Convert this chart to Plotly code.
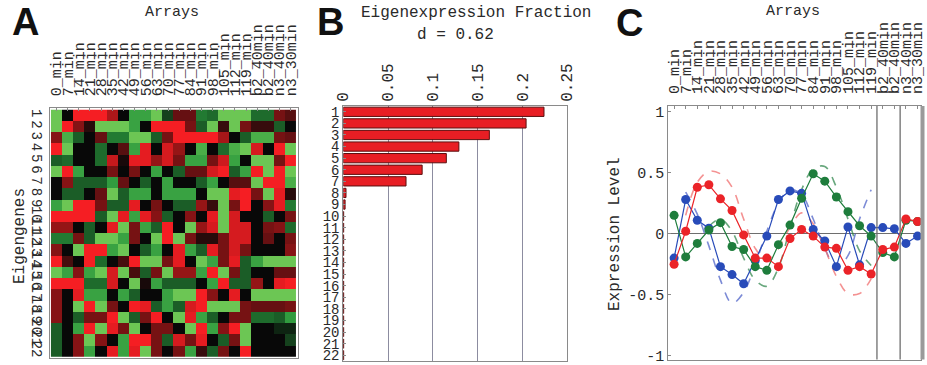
import plotly.graph_objects as go

W, H = 927, 365

# ---------------- data ----------------
array_labels = ["0_min", "7_min", "14_min", "21_min", "28_min", "35_min", "42_min",
                "49_min", "56_min", "63_min", "70_min", "77_min", "84_min", "91_min",
                "98_min", "105_min", "112_min", "119_min", "b2_40min", "b2_40min",
                "n3_40min", "n3_30min"]
eigengene_ids = list(range(1, 23))
array_pos = list(range(1, 23))

# heatmap (rows = eigengenes 1..22, cols = arrays); + red, - green
heat_values = [
    [-0.9, 0.0, 1.0, 1.0, 1.0, 0.55, 0.0, -0.6, -0.6, -0.9, -0.2, 0.3, 0.3, -0.4, -0.35, -0.9, -0.9, -0.9, -0.35, -0.35, 0.35, 0.25],
    [-0.9, 1.0, 0.4, 0.1, -0.9, -0.9, -0.9, -0.6, 0.0, 1.0, 1.0, 1.0, 0.35, -0.3, -0.9, 0.15, -0.9, 0.35, 0.15, 0.15, -0.3, 0.0],
    [0.4, -0.7, -0.3, 0.0, 0.3, -0.4, -0.4, -0.9, -0.9, -0.3, 0.35, 1.0, 1.0, 1.0, 1.0, 0.5, 0.0, -0.3, -0.7, -0.7, 0.35, 0.3],
    [1.0, -0.9, 0.0, 0.0, -0.35, 0.0, 0.25, -0.6, 0.9, 0.0, 0.8, 0.45, 0.0, -0.7, 0.0, -0.35, -0.7, -0.9, 0.8, 0.0, 1.0, -0.9],
    [-0.3, -0.35, 0.0, 0.0, -0.35, 0.7, 0.05, 0.9, 0.9, 0.45, 0.8, 0.35, -0.6, -0.6, 0.35, 0.75, -0.6, 0.0, -0.9, -0.9, 0.35, 1.0],
    [-0.9, 1.0, -0.6, 0.0, 0.0, 0.35, 0.0, 0.35, 0.0, -0.6, 0.0, -0.3, 0.3, 0.3, 0.8, 1.0, -0.3, -0.6, 1.0, -0.9, 1.0, -0.9],
    [0.0, 0.4, -0.3, -0.3, -0.3, -0.55, 0.3, 0.0, -0.3, 0.0, -0.6, 0.0, 0.0, -0.3, -0.6, 0.0, 0.25, 0.25, -0.9, 1.0, 1.0, -0.7],
    [0.0, -0.3, -0.3, 0.0, 0.3, -0.9, -0.3, -0.6, -0.6, 0.0, -0.6, -0.6, -0.6, 0.0, -0.9, -0.9, 0.9, 1.0, 0.35, -0.9, 0.9, 0.1],
    [-0.6, -0.9, 1.0, 1.0, 0.35, -0.3, -0.3, 0.9, 0.0, 0.35, 0.0, -0.3, -0.3, 0.45, 0.15, -0.9, 0.35, 1.0, 0.0, 0.4, 0.9, -0.4],
    [1.0, 1.0, 1.0, 1.0, -0.3, -0.9, 0.9, -0.6, 0.9, 0.4, -0.3, 0.0, 0.4, 0.0, 0.9, -0.9, 0.8, 0.0, 0.0, -0.3, 0.0, 0.35],
    [0.45, 0.45, 0.0, -0.3, 0.0, 0.9, -0.9, 0.35, -0.6, -0.3, 1.0, 0.0, -0.9, 0.45, 0.8, -0.9, 0.8, 0.8, 0.0, 0.35, 0.4, -0.35],
    [-0.4, -0.4, 0.35, -0.3, -0.9, -0.9, -0.6, 0.35, 0.0, -0.9, 1.0, -0.9, 0.35, 0.1, 0.1, 0.35, 0.8, 0.8, 0.0, 0.3, 0.0, 0.35],
    [0.4, 0.0, -0.9, 1.0, 1.0, -0.6, -0.9, 0.0, -0.3, -0.6, 0.0, 0.9, -0.6, -0.3, 0.9, 0.35, 0.8, 0.35, 0.0, 0.0, 0.0, 0.4],
    [1.0, 0.2, 0.0, 1.0, -0.35, 0.0, 0.2, 1.0, -0.9, -0.9, 0.35, 0.9, 0.0, -0.9, -0.6, 0.35, 0.9, -0.3, -0.6, -0.9, -0.9, -0.9],
    [-0.9, -0.6, 0.4, -0.6, -0.9, 0.8, -0.9, 0.2, -0.3, 0.35, -0.9, 0.45, 0.45, -0.6, 1.0, -0.9, 0.35, -0.3, 0.0, 0.0, 0.3, 0.3],
    [1.0, 1.0, 1.0, -0.35, -0.35, 0.8, 0.0, -0.9, 0.05, -0.6, -0.3, -0.3, -0.3, 0.0, -0.6, 1.0, -0.3, -0.3, 0.45, 0.0, 0.9, 1.0],
    [0.4, 0.0, 0.9, -0.6, -0.6, 0.0, -0.6, -0.3, 0.0, 0.0, -0.6, -0.9, -0.9, 1.0, 0.4, 0.0, 0.9, 0.0, -0.9, -0.9, -0.9, -0.9],
    [0.4, 0.0, -0.9, 1.0, -0.9, 0.35, 0.0, 1.0, 0.9, -0.3, -0.6, -0.3, 0.8, 1.0, -0.9, -0.9, -0.9, 0.35, 0.3, 0.3, 0.3, 0.35],
    [0.4, 0.0, -0.3, 0.35, 0.35, 1.0, -0.9, -0.3, 0.35, 1.0, 0.0, -0.9, 0.9, -0.6, -0.3, 0.0, 0.35, 0.35, -0.35, -0.35, -0.3, -0.55],
    [-0.3, 0.0, -0.6, 1.0, -0.9, 0.9, 0.35, -0.9, 0.0, 0.35, 0.35, 0.0, -0.9, 1.0, -0.6, 0.4, 1.0, -0.9, 0.0, 0.0, -0.1, -0.1],
    [-0.3, 0.0, 0.4, -0.9, 0.4, 0.0, -0.6, 1.0, 1.0, 0.35, -0.3, 0.8, 0.35, 0.9, 0.0, -0.3, 0.35, -0.9, 0.0, 0.0, 0.0, -0.2],
    [-0.3, 0.0, 0.4, -0.6, 0.0, 0.9, -0.6, 0.9, -0.9, 0.35, 0.0, 0.35, -0.6, 0.15, -0.3, 0.35, 0.0, 1.0, 0.0, 0.0, 0.0, 0.0],
]

# eigenexpression fractions
eig_fraction = [0.224, 0.204, 0.163, 0.129, 0.115, 0.088, 0.070, 0.003, 0.002,
                0.0004, 0.0004, 0.0004, 0.0004, 0.0004, 0.0004, 0.0004, 0.0004,
                0.0004, 0.0004, 0.0004, 0.0004, 0.0004]
fraction_ticks = [0, 0.05, 0.1, 0.15, 0.2, 0.25]
fraction_ticktext = ["0", "0.05", "0.1", "0.15", "0.2", "0.25"]

# eigengene expression levels across the 22 arrays
eig_red = [-0.25, 0.02, 0.38, 0.40, 0.285, 0.19, -0.01, -0.20, -0.20, -0.27, -0.04,
           0.035, -0.02, -0.11, -0.12, -0.30, -0.27, -0.33, -0.13, -0.11, 0.12, 0.10]
eig_blue = [-0.20, 0.28, 0.11, 0.045, -0.27, -0.335, -0.41, -0.22, -0.02, 0.28, 0.35,
            0.33, 0.035, -0.06, -0.27, 0.055, -0.255, 0.05, 0.05, 0.04, -0.08, -0.02]
eig_green = [0.15, -0.19, -0.08, 0.03, 0.09, -0.105, -0.13, -0.27, -0.30, -0.09, 0.07,
             0.29, 0.49, 0.43, 0.30, 0.18, 0.065, -0.02, -0.155, -0.19, 0.11, 0.10]

# fitted (dashed) curves, over the alpha-factor arrays
fit_red_x = list(range(2, 19))
fit_red = [0.15, 0.42, 0.51, 0.49, 0.38, 0.12, -0.12, -0.22, -0.12, 0.05, 0.17, 0.08,
           -0.12, -0.35, -0.49, -0.49, -0.37]
fit_blue_x = list(range(2, 19))
fit_blue = [0.34, 0.16, -0.10, -0.38, -0.57, -0.48, -0.25, 0.02, 0.25, 0.36, 0.32, 0.12,
            -0.12, -0.28, -0.18, 0.12, 0.36]
fit_green_x = list(range(4, 19))
fit_green = [0.06, 0.12, 0.02, -0.20, -0.38, -0.43, -0.28, 0.05, 0.36, 0.53, 0.55, 0.38,
             0.12, -0.14, -0.26]

# ---------------- layout helpers ----------------
def px(x):
    return x / W

def py(y):
    return 1 - y / H

MONO = "Liberation Mono"
TXT = "#2a2a2a"
FRAME = "#8a8a8a"

fig = go.Figure()

# Panel A heatmap
fig.add_trace(go.Heatmap(
    z=heat_values, x=array_pos, y=eigengene_ids,
    colorscale=[[0.0, "rgb(125,210,90)"], [0.25, "rgb(40,150,60)"],
                [0.5, "rgb(8,8,8)"], [0.75, "rgb(165,22,24)"], [1.0, "rgb(245,30,35)"]],
    zmin=-1, zmax=1, showscale=False, xaxis="x", yaxis="y"))

# Panel B bars
fig.add_trace(go.Bar(
    x=eig_fraction, y=eigengene_ids, orientation="h", width=0.8,
    marker=dict(color="rgb(232,30,36)", line=dict(color="rgb(90,15,15)", width=1)),
    xaxis="x2", yaxis="y2", showlegend=False))

# Panel C fitted curves
for fx, fy, col in [(fit_blue_x, fit_blue, "rgba(80,100,200,0.75)"),
                    (fit_green_x, fit_green, "rgba(40,130,70,0.7)"),
                    (fit_red_x, fit_red, "rgba(240,110,110,0.75)")]:
    fig.add_trace(go.Scatter(x=fx, y=fy, mode="lines",
                             line=dict(color=col, width=1.6, dash="dash", shape="spline", smoothing=1.0),
                             xaxis="x3", yaxis="y3", showlegend=False))

# Panel C eigengenes
for vals, col in [(eig_blue, "rgb(40,75,185)"), (eig_green, "rgb(30,125,60)"),
                  (eig_red, "rgb(235,35,40)")]:
    fig.add_trace(go.Scatter(x=array_pos, y=vals, mode="lines+markers",
                             line=dict(color=col, width=1.2),
                             marker=dict(color=col, size=9),
                             xaxis="x3", yaxis="y3", showlegend=False))

xtickfont = dict(family=MONO, size=15, color=TXT)
ytickfont = dict(family=MONO, size=15, color=TXT)

# domains (pixel based)
A_x = [px(49.5), px(297.7)]
A_y = [py(358.3), py(108.3)]
B_x = [px(343.3), px(567.3)]
B_y = [py(361), py(106)]
C_x = [px(668.3), px(921)]
C_y = [py(359.5), py(106)]

common = dict(showline=True, mirror=True, linecolor=FRAME, linewidth=1,
              zeroline=False, automargin=False, ticklabeloverflow="allow")

fig.update_layout(
    width=W, height=H, margin=dict(l=0, r=0, t=0, b=0, pad=0),
    paper_bgcolor="white", plot_bgcolor="white", showlegend=False,
    xaxis=dict(domain=A_x, range=[0.37, 22.63], side="top", tickmode="array",
               tickvals=array_pos, ticktext=array_labels, tickangle=-90,
               tickfont=xtickfont, ticks="inside", ticklen=3, tickcolor=FRAME,
               ticklabelstandoff=8, showgrid=False, anchor="y", **common),
    yaxis=dict(domain=A_y, range=[22.63, 0.37], tickmode="array",
               tickvals=eigengene_ids, ticktext=[str(i) for i in eigengene_ids],
               tickangle=90, tickfont=dict(family=MONO, size=14, color=TXT), ticks="",
               showgrid=False, anchor="x", **common),
    xaxis2=dict(domain=B_x, range=[0, 0.25], side="top", tickmode="array",
                tickvals=fraction_ticks, ticktext=fraction_ticktext, tickangle=-90,
                tickfont=dict(family=MONO, size=16, color=TXT), ticks="", showgrid=True,
                gridcolor="#8c8ca0", gridwidth=1, anchor="y2", **common),
    yaxis2=dict(domain=B_y, range=[22.5, 0.5], tickmode="array",
                tickvals=eigengene_ids, ticktext=[str(i) for i in eigengene_ids],
                tickfont=dict(family=MONO, size=14, color=TXT), ticks="inside", ticklen=3,
                tickcolor=FRAME, showgrid=False, anchor="x2", **common),
    xaxis3=dict(domain=C_x, range=[0.5, 22.3], side="top", tickmode="array",
                tickvals=array_pos, ticktext=array_labels, tickangle=-90,
                tickfont=xtickfont, ticks="inside", ticklen=3, tickcolor=FRAME,
                ticklabelstandoff=8, showgrid=False, anchor="y3", **common),
    yaxis3=dict(domain=C_y, range=[-1.03, 1.045], tickmode="array",
                tickvals=[-1, -0.5, 0, 0.5, 1], ticktext=["-1", "-0.5", "0", "0.5", "1"],
                tickfont=ytickfont, ticks="inside", ticklen=3, tickcolor=FRAME,
                showgrid=False, anchor="x3", showline=True, mirror=True,
                linecolor=FRAME, linewidth=1, automargin=False, ticklabeloverflow="allow",
                zeroline=True, zerolinecolor="#6e6e6e", zerolinewidth=1.3),
)

shapes = []
for xv in [18.5, 20.5]:
    shapes.append(dict(type="line", xref="x3", yref="y3 domain", x0=xv, x1=xv, y0=0, y1=1,
                       line=dict(color="#6e6e6e", width=1.3), layer="above"))
shapes.append(dict(type="line", xref="paper", yref="y3 domain", x0=px(922.5), x1=px(922.5),
                   y0=0, y1=1, line=dict(color="#9a9a9a", width=4)))
fig.update_layout(shapes=shapes)

ann = []
def label(text, x, y, size, family=MONO, angle=0, bold=False):
    t = f"<b>{text}</b>" if bold else text
    ann.append(dict(text=t, x=px(x), y=py(y), xref="paper", yref="paper",
                    showarrow=False, xanchor="center", yanchor="middle",
                    textangle=angle, font=dict(family=family, size=size, color=TXT if not bold else "#111")))

label("A", 25, 22, 38, family="Liberation Sans", bold=True)
label("B", 330, 22, 38, family="Liberation Sans", bold=True)
label("C", 629, 23, 38, family="Liberation Sans", bold=True)
label("Arrays", 172, 13, 15)
label("Arrays", 793, 12, 15)
label("Eigenexpression Fraction", 476, 13, 16)
label("d = 0.62", 455, 35, 16)
label("Eigengenes", 20, 236, 16, angle=-90)
label("Expression Level", 615, 234, 16, angle=-90)
fig.update_layout(annotations=ann)

fig.write_html("out.html")
